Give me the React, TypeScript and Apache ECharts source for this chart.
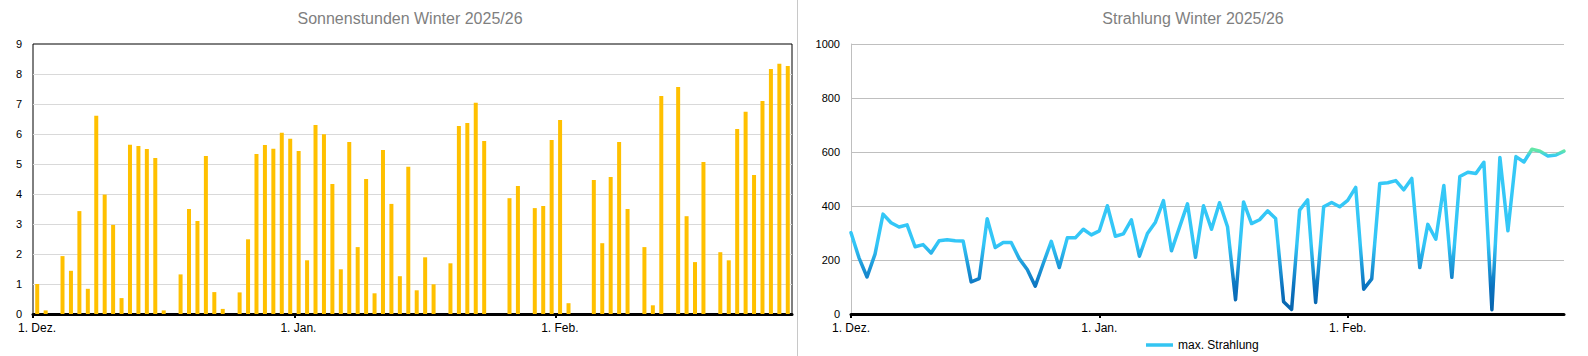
import React, { useEffect, useRef } from 'react';
import * as echarts from 'echarts';

const monthTickIdx = [0, 31, 62];
const monthTickLabels = ['1. Dez.', '1. Jan.', '1. Feb.'];

const leftTitle = 'Sonnenstunden Winter 2025/26';
const rightTitle = 'Strahlung Winter 2025/26';
const seriesName = 'max. Strahlung';

// Sonnenstunden per day, 1. Dez. 2025 .. 28. Feb. 2026
const sunHours = [
  1.0, 0.12, 0, 1.93, 1.44, 3.43, 0.84, 6.61, 3.98, 2.97,
  0.53, 5.64, 5.6, 5.5, 5.2, 0.12, 0, 1.32, 3.5, 3.1,
  5.27, 0.73, 0.17, 0, 0.72, 2.49, 5.33, 5.63, 5.51, 6.04,
  5.84, 5.43, 1.79, 6.3, 5.99, 4.33, 1.49, 5.73, 2.23, 4.5,
  0.69, 5.47, 3.67, 1.26, 4.91, 0.79, 1.89, 0.99, 0, 1.69,
  6.27, 6.37, 7.04, 5.77, 0, 0, 3.86, 4.27, 0, 3.53,
  3.6, 5.8, 6.47, 0.36, 0, 0, 4.47, 2.36, 4.57, 5.73,
  3.5, 0, 2.23, 0.29, 7.27, 0, 7.57, 3.26, 1.73, 5.07,
  0, 2.06, 1.79, 6.17, 6.74, 4.63, 7.1, 8.17, 8.34, 8.27,
];

// max. Strahlung per day, 1. Dez. 2025 .. 28. Feb. 2026
const maxRadiation = [
  301, 208, 137, 222, 370, 338, 322, 330, 249, 257,
  226, 271, 275, 271, 270, 119, 131, 353, 246, 265,
  265, 205, 165, 103, 187, 269, 172, 282, 282, 314,
  293, 308, 401, 288, 297, 349, 214, 298, 340, 420,
  234, 321, 408, 210, 401, 314, 412, 323, 53, 415,
  335, 349, 382, 354, 45, 17, 385, 423, 43, 397,
  413, 397, 421, 469, 92, 130, 483, 486, 494, 460,
  502, 172, 332, 277, 476, 136, 509, 525, 520, 562,
  16, 580, 308, 583, 563, 610, 603, 585, 589, 603,
];

const FONT = 'Liberation Sans';

export default function App() {
  const ref = useRef<HTMLDivElement>(null);

  useEffect(() => {
    document.body.style.margin = '0';
    if (!ref.current) return;
    const chart = echarts.init(ref.current, undefined, { renderer: 'svg' });

    const labelFmt = (v: number) => {
      const k = monthTickIdx.indexOf(Math.round(v));
      return k >= 0 ? monthTickLabels[k] : '';
    };

    const plotTop = 44;
    const plotBottom = 314;

    const option: any = {
      animation: false,
      backgroundColor: '#fff',
      textStyle: { fontFamily: FONT },
      graphic: [
        {
          type: 'line',
          shape: { x1: 797.5, y1: 0, x2: 797.5, y2: 356 },
          style: { stroke: '#c8c8c8', lineWidth: 1 },
        },
        {
          type: 'text',
          x: 410,
          y: 18,
          style: {
            text: leftTitle,
            fill: '#7f7f7f',
            font: `16px "${FONT}"`,
            textAlign: 'center',
            textVerticalAlign: 'middle',
          },
        },
        {
          type: 'text',
          x: 1193,
          y: 18,
          style: {
            text: rightTitle,
            fill: '#7f7f7f',
            font: `16px "${FONT}"`,
            textAlign: 'center',
            textVerticalAlign: 'middle',
          },
        },
      ],
      grid: [
        {
          left: 33,
          right: 1588 - 792,
          top: plotTop,
          bottom: 356 - plotBottom,
          show: true,
          borderColor: '#000',
          borderWidth: 1,
          containLabel: false,
        },
        {
          left: 851,
          right: 1588 - 1564,
          top: plotTop,
          bottom: 356 - plotBottom,
          containLabel: false,
        },
      ],
      legend: {
        data: [seriesName],
        left: 1141,
        top: 334,
        icon: 'rect',
        itemWidth: 27,
        itemHeight: 3.5,
        itemStyle: { color: '#33c5f2' },
        textStyle: { fontSize: 12, color: '#000', fontFamily: FONT },
      },
      xAxis: [
        {
          type: 'value',
          gridIndex: 0,
          min: 0,
          max: 90,
          splitLine: { show: false },
          axisLine: { show: true, onZero: false, lineStyle: { color: '#000', width: 3 } },
          axisTick: {
            show: true,
            customValues: monthTickIdx,
            length: 4,
            lineStyle: { color: '#000', width: 2 },
          },
          axisLabel: {
            customValues: monthTickIdx,
            formatter: labelFmt,
            fontSize: 12,
            color: '#000',
            margin: 8,
            padding: [0, 0, 0, 8],
          },
        },
        {
          type: 'value',
          gridIndex: 1,
          min: 0,
          max: 89,
          splitLine: { show: false },
          axisLine: { show: true, onZero: false, lineStyle: { color: '#000', width: 3 } },
          axisTick: {
            show: true,
            customValues: monthTickIdx,
            length: 4,
            lineStyle: { color: '#000', width: 2 },
          },
          axisLabel: {
            customValues: monthTickIdx,
            formatter: labelFmt,
            fontSize: 12,
            color: '#000',
            margin: 8,
          },
        },
      ],
      yAxis: [
        {
          type: 'value',
          gridIndex: 0,
          min: 0,
          max: 9,
          interval: 1,
          axisLine: { show: false },
          axisTick: { show: false },
          splitLine: {
            show: true,
            showMaxLine: false,
            lineStyle: { color: '#d9d9d9', width: 1 },
          },
          axisLabel: { fontSize: 11, color: '#000', margin: 11 },
        },
        {
          type: 'value',
          gridIndex: 1,
          min: 0,
          max: 1000,
          interval: 200,
          axisLine: { show: true, lineStyle: { color: '#bfbfbf', width: 1 } },
          axisTick: { show: false },
          splitLine: { show: true, lineStyle: { color: '#bfbfbf', width: 1 } },
          axisLabel: {
            fontSize: 11,
            color: '#000',
            margin: 11,
            formatter: (v: number) => String(v),
          },
        },
      ],
      series: [
        {
          type: 'bar',
          name: 'Sonnenstunden',
          xAxisIndex: 0,
          yAxisIndex: 0,
          barWidth: 4,
          itemStyle: { color: '#FFC000' },
          data: sunHours.map((v, i) => [i + 0.5, v]),
        },
        {
          type: 'line',
          name: seriesName,
          xAxisIndex: 1,
          yAxisIndex: 1,
          symbol: 'none',
          showSymbol: false,
          lineStyle: {
            width: 3.5,
            join: 'round',
            cap: 'round',
            color: {
              type: 'linear',
              x: 0,
              y: plotTop,
              x2: 0,
              y2: plotBottom,
              global: true,
              colorStops: [
                { offset: 0, color: '#6aeea0' },
                { offset: 0.395, color: '#62e6a8' },
                { offset: 0.415, color: '#36c9f6' },
                { offset: 0.74, color: '#33c6f7' },
                { offset: 0.82, color: '#1e9ad9' },
                { offset: 0.9, color: '#0b72bf' },
                { offset: 1, color: '#0762aa' },
              ],
            },
          },
          data: maxRadiation.map((v, i) => [i, v]),
        },
      ],
    };

    chart.setOption(option);
    return () => {
      chart.dispose();
    };
  }, []);

  return <div ref={ref} style={{ width: 1588, height: 356 }} />;
}
